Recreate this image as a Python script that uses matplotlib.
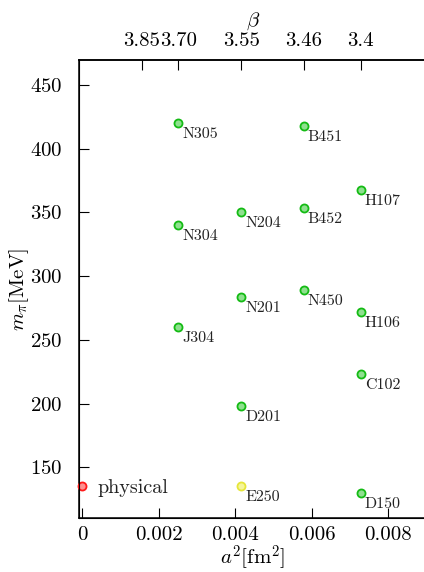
import numpy as np
import matplotlib
matplotlib.use('Agg')
import matplotlib.pyplot as plt

plt.rcParams['font.family'] = ['cmr10', 'DejaVu Serif']
plt.rcParams['mathtext.fontset'] = 'cm'
plt.rcParams['axes.formatter.use_mathtext'] = True

# ensembles: name, a^2 [fm^2], m_pi [MeV]
names = ['N305', 'N304', 'J304', 'N204', 'N201', 'D201',
         'B451', 'B452', 'N450', 'H107', 'H106', 'C102', 'D150']
a2 = [0.00252, 0.00252, 0.00252, 0.00416, 0.00416, 0.00416,
      0.00579, 0.00579, 0.00579, 0.00729, 0.00729, 0.00729, 0.00729]
mpi = [420, 340, 260, 350.5, 283.5, 198,
       418, 353.5, 289.5, 367.5, 271.5, 223, 130]

# special points
e250_a2, e250_mpi = 0.00416, 135
phys_a2, phys_mpi = 0.0, 135

# top axis
beta_a2 = [0.00156, 0.00252, 0.00416, 0.00579, 0.00729]
beta_labels = ['3.85', '3.70', '3.55', '3.46', '3.4']

xticks = [0, 0.002, 0.004, 0.006, 0.008]
xtick_labels = ['0', '0.002', '0.004', '0.006', '0.008']
yticks = [150, 200, 250, 300, 350, 400, 450]

fig = plt.figure(figsize=(4.24, 5.72), dpi=100)
ax = fig.add_axes([0.1863, 0.0944, 0.8191, 0.8007])

green_edge, green_face = '#14bb14', '#8fe08f'
ax.plot(a2, mpi, 'o', ms=5.8, mew=1.3, mec=green_edge, mfc=green_face, zorder=3)
ax.plot([e250_a2], [e250_mpi], 'o', ms=5.8, mew=1.3, mec='#e6e63a', mfc='#f5f59a', zorder=3)
ax.plot([phys_a2], [phys_mpi], 'o', ms=5.8, mew=1.3, mec='#ff1a1a', mfc='#ff9090',
        zorder=3, clip_on=False)

for n, x, y in zip(names + ['E250'], a2 + [e250_a2], mpi + [e250_mpi]):
    ax.annotate(n, (x, y), xytext=(4, -15), textcoords='offset pixels',
                ha='left', va='baseline', fontsize=11.5, color='#222222')
ax.annotate('physical', (phys_a2, phys_mpi), xytext=(15, 0), textcoords='offset pixels',
            ha='left', va='center_baseline', fontsize=14.5, color='#222222')

ax.set_xlim(-0.00008, 0.009)
ax.set_ylim(110.2, 469.6)
ax.set_xticks(xticks)
ax.set_xticklabels(xtick_labels)
ax.set_yticks(yticks)
ax.tick_params(direction='in', length=7.5, width=0.8, labelsize=15, pad=6)
ax.tick_params(axis='y', pad=12)
ax.spines['right'].set_visible(False)
for s in ['top', 'left', 'bottom']:
    ax.spines[s].set_linewidth(1.1)

ax.set_xlabel(r'$a^2[\mathrm{fm}^2]$', fontsize=15, labelpad=-1)
ax.set_ylabel(r'$m_\pi[\mathrm{MeV}]$', fontsize=15, labelpad=-1)

ax2 = ax.twiny()
ax2.set_xlim(ax.get_xlim())
ax2.set_xticks(beta_a2)
ax2.set_xticklabels(beta_labels)
ax2.tick_params(direction='in', length=7.5, width=0.8, labelsize=15, pad=7)
ax2.spines['right'].set_visible(False)
ax2.spines['top'].set_linewidth(1.1)
ax2.set_xlabel(r'$\beta$', fontsize=15, labelpad=5)

fig.savefig('out.png', dpi=100)
